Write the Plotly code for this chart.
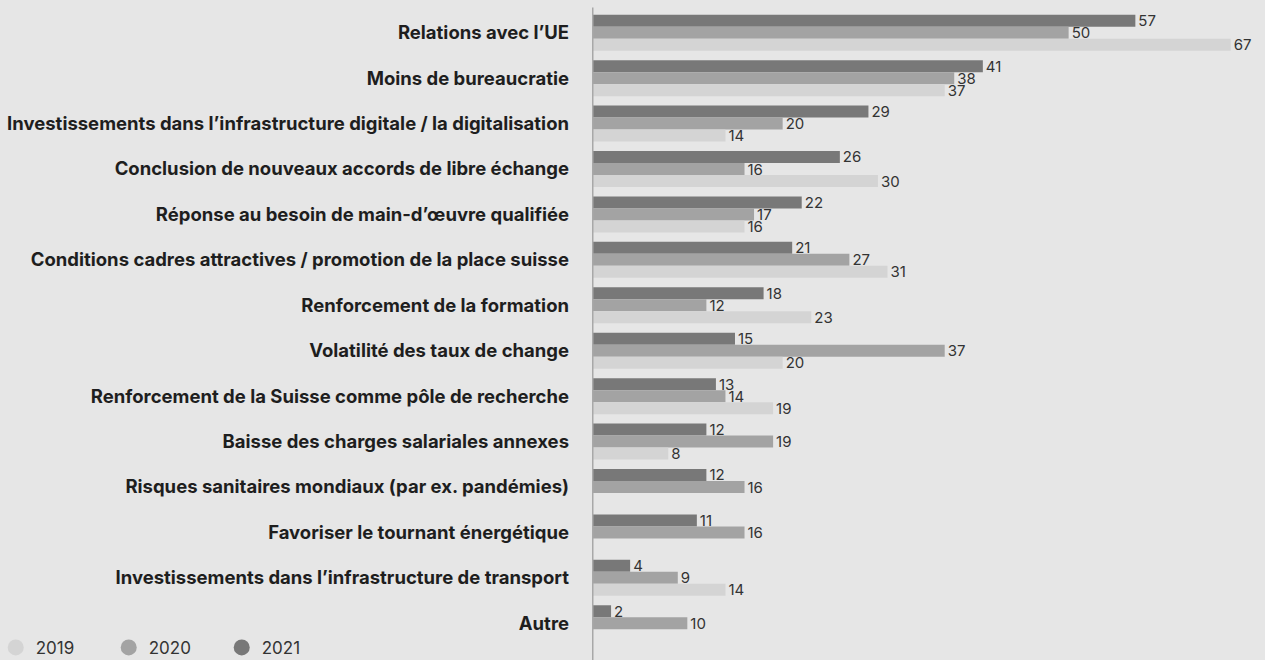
import plotly.graph_objects as go

categories = [
    "Relations avec l’UE",
    "Moins de bureaucratie",
    "Investissements dans l’infrastructure digitale / la digitalisation",
    "Conclusion de nouveaux accords de libre échange",
    "Réponse au besoin de main-d’œuvre qualifiée",
    "Conditions cadres attractives / promotion de la place suisse",
    "Renforcement de la formation",
    "Volatilité des taux de change",
    "Renforcement de la Suisse comme pôle de recherche",
    "Baisse des charges salariales annexes",
    "Risques sanitaires mondiaux (par ex. pandémies)",
    "Favoriser le tournant énergétique",
    "Investissements dans l’infrastructure de transport",
    "Autre",
]
v2021 = [57, 41, 29, 26, 22, 21, 18, 15, 13, 12, 12, 11, 4, 2]
v2020 = [50, 38, 20, 16, 17, 27, 12, 37, 14, 19, 16, 16, 9, 10]
v2019 = [67, 37, 14, 30, 16, 31, 23, 20, 19, 8, None, None, 14, None]

years = ["2021", "2020", "2019"]
colors = {"2021": "#787878", "2020": "#a3a3a3", "2019": "#d4d4d4"}
series = {"2021": v2021, "2020": v2020, "2019": v2019}

fig = go.Figure()
for yr in years:
    vals = series[yr]
    fig.add_trace(go.Bar(
        y=categories, x=vals, orientation="h", name=yr,
        marker=dict(color=colors[yr], line=dict(width=0)),
        text=[("" if v is None else str(v)) for v in vals],
        textposition="outside", cliponaxis=False, constraintext="none",
        textfont=dict(family="Inter", size=15, color="#333333"),
        showlegend=False, hoverinfo="skip",
    ))

for yr in ["2019", "2020", "2021"]:
    fig.add_trace(go.Scatter(
        x=[None], y=[None], mode="markers", name=yr,
        marker=dict(symbol="circle", size=16, color=colors[yr]),
        showlegend=True, hoverinfo="skip",
    ))

fig.add_shape(type="line", xref="x", yref="paper", x0=0, x1=0, y0=-0.03, y1=1.004,
              line=dict(color="#a8a8a8", width=3))

fig.update_layout(
    width=1265, height=660,
    paper_bgcolor="#e6e6e6", plot_bgcolor="#e6e6e6",
    margin=dict(l=592, r=0, t=10, b=14, autoexpand=False),
    barmode="group", bargap=0.207, bargroupgap=0,
    font=dict(family="Inter", color="#222222"),
    xaxis=dict(range=[0, 70.6], showgrid=False, zeroline=False, showticklabels=False,
               showline=False, fixedrange=True),
    yaxis=dict(autorange="reversed", showgrid=False, zeroline=False, showline=False,
               ticks="", ticklabelstandoff=22, automargin=False, fixedrange=True,
               tickfont=dict(family="Inter", size=18.5, color="#1e1e1e", weight="bold")),
    legend=dict(orientation="h", xref="paper", yref="paper", x=-0.886, y=-0.003,
                xanchor="left", yanchor="middle", font=dict(family="Inter", size=17, color="#333333"),
                entrywidth=68, entrywidthmode="pixels", itemsizing="trace",
                bgcolor="rgba(0,0,0,0)", tracegroupgap=0),
    showlegend=True,
)

fig.write_html("out.html", config={"displayModeBar": False},
               post_script="document.body.style.margin='0';document.body.style.padding='0';")
